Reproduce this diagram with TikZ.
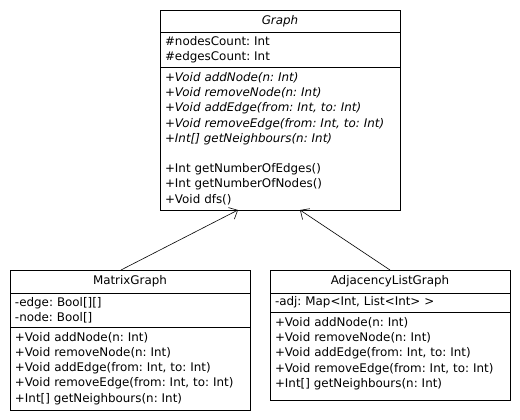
\documentclass[tikz,border=0pt]{standalone}
\usepackage{fontspec}
\setmainfont{DejaVu Sans}
\usetikzlibrary{arrows.meta,positioning}

\begin{document}
\begin{tikzpicture}[
    x=1pt, y=1pt,
    classpart/.style={rectangle, draw=black, line width=0.6pt, outer sep=0pt, inner xsep=5pt, inner ysep=2pt,
        minimum width=240pt, text width=230pt, align=left, font=\fontsize{11.9}{15.2}\selectfont\frenchspacing},
    classname/.style={classpart, align=center},
    inherit/.style={draw, line width=0.6pt, -{Straight Barb[length=7pt,width=13pt,line width=0.6pt]}}
]
    \useasboundingbox (0,0) rectangle (520,-420);

    % Abstract base class
    \node[classname, minimum height=22pt] (graphname) at (280,-21) {\itshape Graph};
    \node[classpart, minimum height=35pt, below=0pt of graphname] (graphattr)
        {\#nodesCount: Int\\\#edgesCount: Int};
    \node[classpart, minimum height=143pt, below=0pt of graphattr] (graphops)
        {{\itshape +Void addNode(n: Int)}\\
         {\itshape +Void removeNode(n: Int)}\\
         {\itshape +Void addEdge(from: Int, to: Int)}\\
         {\itshape +Void removeEdge(from: Int, to: Int)}\\
         {\itshape +Int[] getNeighbours(n: Int)}\\
         \mbox{}\\
         +Int getNumberOfEdges()\\
         +Int getNumberOfNodes()\\
         +Void dfs()};

    % Matrix implementation
    \node[classname, minimum height=23pt] (matrixname) at (130,-281.5) {MatrixGraph};
    \node[classpart, minimum height=34pt, below=0pt of matrixname] (matrixattr)
        {-edge: Bool[][]\\-node: Bool[]};
    \node[classpart, minimum height=83pt, below=0pt of matrixattr] (matrixops)
        {+Void addNode(n: Int)\\
         +Void removeNode(n: Int)\\
         +Void addEdge(from: Int, to: Int)\\
         +Void removeEdge(from: Int, to: Int)\\
         +Int[] getNeighbours(n: Int)};

    % Adjacency list implementation
    \node[classname, minimum height=23pt] (adjname) at (390,-281.5) {AdjacencyListGraph};
    \node[classpart, minimum height=19pt, below=0pt of adjname] (adjattr)
        {-adj: Map<Int, List<Int> >};
    \node[classpart, minimum height=88pt, below=0pt of adjattr] (adjops)
        {+Void addNode(n: Int)\\
         +Void removeNode(n: Int)\\
         +Void addEdge(from: Int, to: Int)\\
         +Void removeEdge(from: Int, to: Int)\\
         +Int[] getNeighbours(n: Int)\\[-8pt]\mbox{}};

    % Inheritance
    \path[inherit] ([xshift=-9pt]matrixname.north) -- ([xshift=-42pt]graphops.south);
    \path[inherit] (adjname.north) -- ([xshift=20pt]graphops.south);
\end{tikzpicture}
\end{document}
